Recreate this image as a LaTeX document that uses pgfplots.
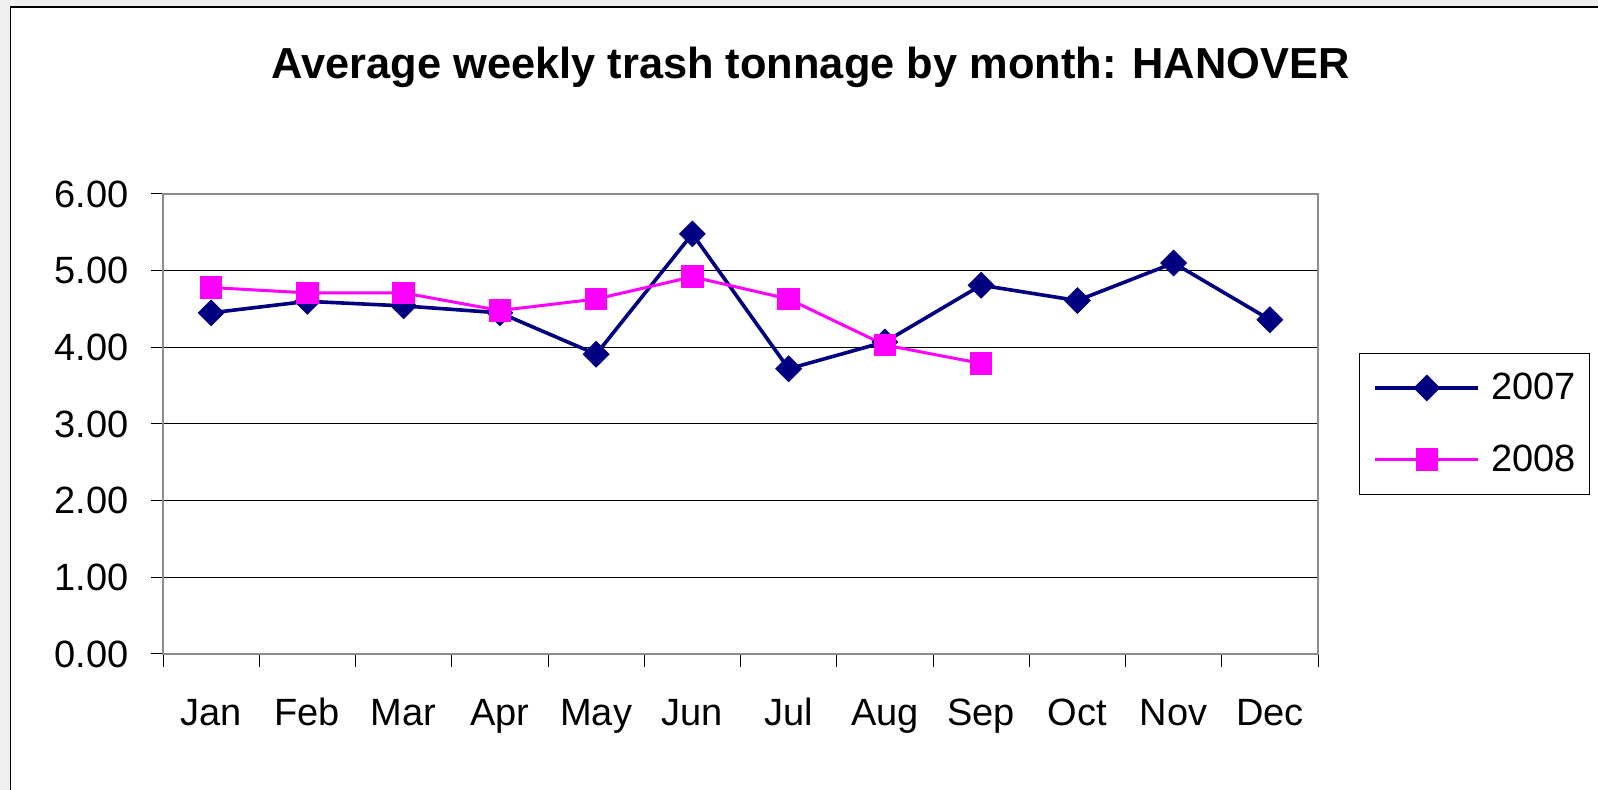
\documentclass[border=0pt]{standalone}
\usepackage{pgfplots}
\pgfplotsset{compat=1.18}
\usepackage{fontspec}
\setmainfont{Liberation Sans}
\definecolor{navyc}{HTML}{000080}
\definecolor{magc}{HTML}{FF00FF}
\definecolor{bgc}{HTML}{F0EFED}
\definecolor{axgray}{HTML}{8C8C8C}
\begin{document}
\begin{tikzpicture}
\useasboundingbox (0pt,0pt) rectangle (799pt,395pt);
\fill[bgc] (0pt,0pt) rectangle (799pt,395pt);
\begin{scope}
\clip (0pt,0pt) rectangle (799pt,395pt);
\filldraw[fill=white, draw=black, line width=0.6pt] (5.3pt,-10pt) rectangle (810pt,391.5pt);
\end{scope}
\node[anchor=base, inner sep=0pt, font=\bfseries\fontsize{21.7}{26}\selectfont] at (405.3pt,355.75pt) {Average weekly trash tonnage by month: HANOVER};
\begin{axis}[
  at={(81.5pt,68pt)}, anchor=south west,
  scale only axis, width=577.5pt, height=230pt,
  xmin=0.5, xmax=12.5, ymin=0, ymax=6,
  xtick={1,...,12},
  xticklabels={Jan,Feb,Mar,Apr,May,Jun,Jul,Aug,Sep,Oct,Nov,Dec},
  minor xtick={0.5,1.5,...,12.5},
  ytick={0,1,2,3,4,5,6},
  yticklabels={0.00,1.00,2.00,3.00,4.00,5.00,6.00},
  xtick pos=bottom, ytick pos=left,
  tick align=outside,
  major tick length=6pt, minor tick length=6.5pt,
  major x tick style={draw=none},
  tick style={black, line width=0.5pt},
  axis line style={draw=none},
  ymajorgrids, grid style={black, line width=0.5pt},
  ticklabel style={font=\fontsize{19}{23}\selectfont},
  xticklabel style={anchor=base, yshift=-30pt, inner sep=0pt},
  yticklabel style={anchor=east, inner sep=0pt, xshift=-11pt},
  legend style={at={(1.0355,0.655)}, anchor=north west, draw=black, line width=0.5pt,
    font=\fontsize{19}{23}\selectfont, row sep=21pt, inner xsep=7pt, inner ysep=10pt,
    nodes={inner sep=0pt}},
  legend cell align=left,
  legend image code/.code={\draw[mark repeat=2,mark phase=2,#1] plot coordinates {(0pt,0pt) (25.75pt,0pt) (51.5pt,0pt)}; \path (57pt,0pt);},
  clip=false,
]
\draw[axgray, line width=1.3pt] (rel axis cs:0,0) rectangle (rel axis cs:1,1);
\addplot[color=navyc, line width=1.8pt, mark=square*, mark size=4.5pt, mark options={rotate=45, solid, line width=0.5pt}]
coordinates {(1,4.45) (2,4.60) (3,4.54) (4,4.45) (5,3.91) (6,5.48) (7,3.72) (8,4.07) (9,4.81) (10,4.61) (11,5.10) (12,4.36)};
\addlegendentry{2007}
\addplot[color=magc, line width=1.5pt, mark=square*, mark size=5.4pt, mark options={solid, line width=0.5pt}]
coordinates {(1,4.78) (2,4.71) (3,4.71) (4,4.48) (5,4.63) (6,4.92) (7,4.63) (8,4.03) (9,3.79)};
\addlegendentry{2008}
\end{axis}
\end{tikzpicture}
\end{document}
